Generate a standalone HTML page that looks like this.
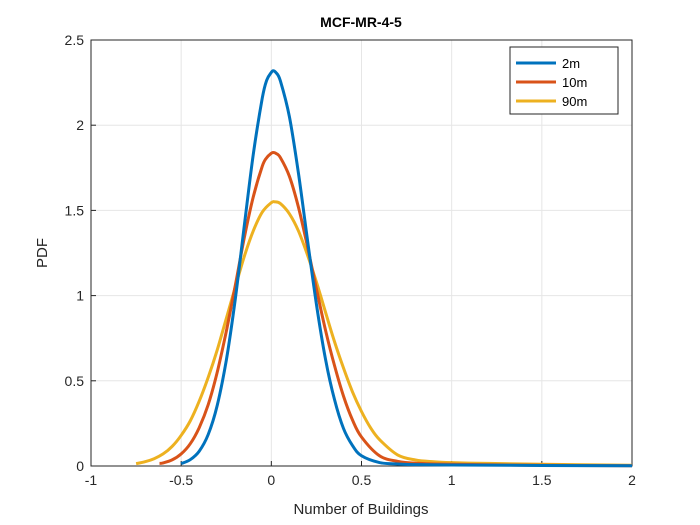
<!DOCTYPE html>
<html><head><meta charset="utf-8"><style>
body{margin:0;background:#fff;}
svg{display:block;font-family:"Liberation Sans",Arial,sans-serif;}
</style></head><body>
<svg id="chart" width="700" height="525">
<rect width="700" height="525" fill="#fff"/>
<g id="grid"></g>
<g id="axes"></g>
<g id="series"></g>
<text x="361" y="27" font-size="14" font-weight="bold" text-anchor="middle">MCF-MR-4-5</text>
<text x="361" y="514" font-size="15" text-anchor="middle" fill="#262626">Number of Buildings</text>
<text transform="translate(47,253) rotate(-90)" font-size="15" text-anchor="middle" fill="#262626">PDF</text>
<g id="legend"></g>
</svg>
<script>
const xTicks=[-1,-0.5,0,0.5,1,1.5,2];
const xTickLabels=["-1","-0.5","0","0.5","1","1.5","2"];
const yTicks=[0,0.5,1,1.5,2,2.5];
const yTickLabels=["0","0.5","1","1.5","2","2.5"];
const seriesNames=["2m","10m","90m"];
const x2m=[-0.5,-0.45,-0.4,-0.35,-0.3,-0.25,-0.2,-0.15,-0.1,-0.05,-0.025,0,0.01,0.025,0.05,0.1,0.15,0.2,0.25,0.3,0.35,0.4,0.45,0.5,0.6,0.7,0.8,1.0,1.5,2.0];
const y2m=[0.014,0.037,0.087,0.185,0.355,0.62,0.98,1.41,1.83,2.16,2.265,2.31,2.32,2.31,2.26,2.05,1.72,1.33,0.95,0.63,0.39,0.22,0.12,0.06,0.02,0.012,0.008,0.006,0.003,0.001];
const x10m=[-0.62,-0.6,-0.55,-0.5,-0.45,-0.4,-0.35,-0.3,-0.25,-0.2,-0.15,-0.1,-0.05,-0.025,0,0.01,0.025,0.05,0.1,0.15,0.2,0.25,0.3,0.35,0.4,0.45,0.5,0.6,0.7,0.8,1.0,1.5,2.0];
const y10m=[0.015,0.018,0.036,0.071,0.13,0.225,0.36,0.55,0.79,1.06,1.34,1.58,1.76,1.81,1.835,1.84,1.835,1.81,1.70,1.52,1.29,1.04,0.80,0.59,0.41,0.27,0.17,0.06,0.027,0.016,0.01,0.004,0.002];
const x90m=[-0.75,-0.7,-0.65,-0.6,-0.55,-0.5,-0.45,-0.4,-0.35,-0.3,-0.25,-0.2,-0.15,-0.1,-0.05,0,0.02,0.05,0.1,0.15,0.2,0.25,0.3,0.35,0.4,0.45,0.5,0.55,0.6,0.7,0.8,0.9,1.0,1.2,1.5,2.0];
const y90m=[0.014,0.025,0.043,0.071,0.115,0.18,0.264,0.38,0.52,0.68,0.865,1.05,1.23,1.38,1.49,1.545,1.55,1.54,1.48,1.38,1.24,1.08,0.905,0.73,0.575,0.435,0.32,0.225,0.155,0.065,0.035,0.025,0.02,0.015,0.01,0.004];
const colors=["#0072BD","#D95319","#EDB120"];
const L=91,R=632,T=40,B=466;
const xs=v=>L+(v+1)/3*(R-L);
const ys=v=>B-v/2.5*(B-T);
const NS="http://www.w3.org/2000/svg";
function mk(tag,attrs,parent){const e=document.createElementNS(NS,tag);for(const k in attrs)e.setAttribute(k,attrs[k]);parent.appendChild(e);return e;}
function smooth(pts){
 let d='M'+pts[0][0].toFixed(1)+','+pts[0][1].toFixed(1);
 for(let i=0;i<pts.length-1;i++){
  const p0=pts[Math.max(0,i-1)],p1=pts[i],p2=pts[i+1],p3=pts[Math.min(pts.length-1,i+2)];
  const c1x=p1[0]+(p2[0]-p0[0])/6,c1y=p1[1]+(p2[1]-p0[1])/6;
  const c2x=p2[0]-(p3[0]-p1[0])/6,c2y=p2[1]-(p3[1]-p1[1])/6;
  d+='C'+c1x.toFixed(1)+','+c1y.toFixed(1)+' '+c2x.toFixed(1)+','+c2y.toFixed(1)+' '+p2[0].toFixed(1)+','+p2[1].toFixed(1);
 }
 return d;
}
const grid=document.getElementById('grid'),axes=document.getElementById('axes'),ser=document.getElementById('series'),leg=document.getElementById('legend');
xTicks.forEach((t,i)=>{
 const g=mk('line',{x1:xs(t),x2:xs(t),y1:T,y2:B,stroke:'#e6e6e6','stroke-width':1},grid);
 
 
 const tk=mk('line',{x1:xs(t),x2:xs(t),y1:B,y2:B-5,stroke:'#262626'},axes);
 
 
 const tx=mk('text',{x:xs(t),y:B+19,'font-size':14,'text-anchor':'middle',fill:'#262626'},axes);
 tx.textContent=xTickLabels[i];
 
 
});
yTicks.forEach((t,i)=>{
 const g=mk('line',{x1:L,x2:R,y1:ys(t),y2:ys(t),stroke:'#e6e6e6','stroke-width':1},grid);
 
 
 const tk=mk('line',{x1:L,x2:L+5,y1:ys(t),y2:ys(t),stroke:'#262626'},axes);
 
 
 const tx=mk('text',{x:L-7,y:ys(t)+5,'font-size':14,'text-anchor':'end',fill:'#262626'},axes);
 tx.textContent=yTickLabels[i];
 
 
});
const box=mk('rect',{x:L,y:T,width:R-L,height:B-T,fill:'none',stroke:'#262626','stroke-width':1},axes);


const XS=[x2m,x10m,x90m],YS=[y2m,y10m,y90m];
[2,1,0].forEach(k=>{
 const pts=XS[k].map((x,i)=>[xs(x),ys(YS[k][i])]);
 const p=mk('path',{d:smooth(pts),fill:'none',stroke:colors[k],'stroke-width':3,'stroke-linejoin':'round'},ser);
 
 
});
const lb=mk('rect',{x:510,y:47,width:108,height:67,fill:'#fff',stroke:'#262626','stroke-width':1},leg);


seriesNames.forEach((n,i)=>{
 const y=63+i*19;
 const l=mk('line',{x1:516,x2:556,y1:y,y2:y,stroke:colors[i],'stroke-width':3},leg);
 
 
 const t=mk('text',{x:562,y:y+5,'font-size':13,fill:'#000'},leg);
 t.textContent=n;
 
 
});
</script>
</body></html>
